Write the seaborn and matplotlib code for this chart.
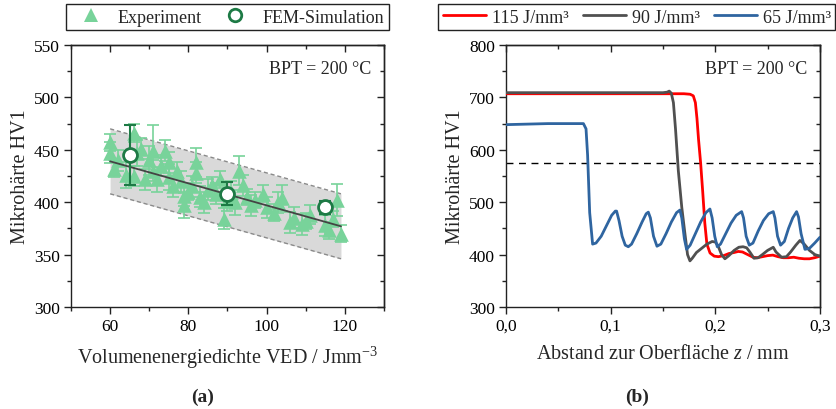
import numpy as np
import pandas as pd
import matplotlib
matplotlib.use("Agg")
import matplotlib.pyplot as plt
from matplotlib.lines import Line2D
from matplotlib.ticker import MultipleLocator, FuncFormatter
import seaborn as sns

# ---------------- data: hardness vs. volume energy density ----------------
exp_ved = [60, 60, 61, 62, 64, 66, 66, 67, 68, 69, 70, 71, 71, 72, 73, 74, 75, 75,
           76, 77, 78, 79, 79, 80, 81, 82, 82, 83, 84, 85, 86, 87, 88, 89, 90, 91,
           92, 93, 94, 95, 96, 97, 99, 100, 102, 103, 104, 106, 107, 109, 110, 111,
           115, 116, 117, 118, 119]
exp_hv = [457, 447, 432, 440, 426, 466, 425, 447, 451, 422, 440, 449, 430, 422, 435,
          449, 438, 424, 415, 430, 420, 406, 397, 410, 415, 438, 428, 405, 400, 412,
          416, 408, 422, 384, 402, 410, 400, 430, 416, 405, 397, 402, 408, 395, 390,
          400, 404, 381, 385, 379, 382, 388, 378, 373, 384, 402, 370]
exp_err = [8, 10, 8, 10, 12, 9, 10, 12, 10, 10, 14, 25, 10, 12, 10, 10, 10, 12, 10,
           8, 10, 10, 12, 8, 10, 14, 10, 10, 10, 10, 8, 10, 8, 10, 10, 10, 12, 14,
           10, 8, 10, 8, 8, 10, 8, 10, 12, 10, 10, 10, 8, 9, 10, 8, 8, 15, 8]

fem_ved = [65, 90, 115]
fem_hv = [445, 408, 395]
fem_err = [29, 11, 6]

trend_ved = [60, 119]
trend_hv = [439, 377]
band_half = 31

# ---------------- data: hardness depth profiles ----------------
z_115 = [0, 0.05, 0.10, 0.15, 0.17, 0.176, 0.179, 0.181, 0.1825, 0.184, 0.186, 0.188,
         0.190, 0.192, 0.195, 0.199, 0.203, 0.208, 0.213, 0.218, 0.222, 0.226, 0.231,
         0.236, 0.240, 0.245, 0.250, 0.255, 0.260, 0.265, 0.270, 0.275, 0.280, 0.285,
         0.290, 0.295, 0.300]
hv_115 = [707, 707, 707, 707, 707, 706, 703, 690, 660, 620, 575, 520, 460, 420, 403,
          397, 396, 398, 402, 404, 406, 405, 400, 395, 394, 396, 398, 399, 396, 394,
          394, 395, 393, 392, 392, 394, 397]

z_90 = [0, 0.05, 0.10, 0.15, 0.154, 0.156, 0.158, 0.160, 0.162, 0.1647, 0.168, 0.171,
        0.1735, 0.1758, 0.178, 0.182, 0.187, 0.192, 0.197, 0.200, 0.2026, 0.206, 0.2092,
        0.213, 0.218, 0.2225, 0.2265, 0.230, 0.233, 0.237, 0.241, 0.245, 0.250, 0.2554,
        0.258, 0.2633, 0.268, 0.272, 0.277, 0.2809, 0.285, 0.290, 0.2952, 0.300]
hv_90 = [709, 709, 709, 709, 710, 712, 708, 690, 640, 560, 490, 440, 400, 388, 393,
         404, 412, 420, 425, 424, 417, 400, 392, 398, 408, 414, 415, 413, 405, 393, 394,
         400, 408, 414, 405, 395, 396, 405, 418, 427, 420, 408, 400, 397]

z_65 = [0, 0.02, 0.04, 0.06, 0.074, 0.0765, 0.078, 0.080, 0.0828, 0.086, 0.091, 0.096,
        0.101, 0.1045, 0.1057, 0.108, 0.111, 0.114, 0.1169, 0.120, 0.125, 0.130, 0.134,
        0.136, 0.138, 0.141, 0.1443, 0.148, 0.153, 0.158, 0.163, 0.1662, 0.168, 0.1705,
        0.1726, 0.176, 0.181, 0.186, 0.191, 0.1949, 0.197, 0.1995, 0.2019, 0.205, 0.210,
        0.215, 0.220, 0.2252, 0.227, 0.2295, 0.2325, 0.236, 0.241, 0.246, 0.251, 0.2554,
        0.257, 0.2595, 0.2624, 0.266, 0.270, 0.274, 0.2777, 0.2795, 0.282, 0.2857, 0.290,
        0.295, 0.300]
hv_65 = [648, 649, 650, 650, 650, 640, 590, 480, 420, 422, 435, 455, 475, 483, 483,
         465, 435, 418, 415, 420, 440, 462, 478, 481, 470, 435, 416, 420, 440, 462, 480,
         485, 470, 430, 410, 418, 440, 462, 480, 487, 470, 435, 415, 420, 440, 460, 475,
         482, 470, 435, 418, 422, 445, 465, 478, 482, 470, 435, 418, 425, 450, 470, 482,
         472, 440, 410, 412, 422, 433]

threshold_hv = 575
curve_labels = ["115 J/mm³", "90 J/mm³", "65 J/mm³"]
curve_colors = ["#ff0000", "#505050", "#2f65a0"]

# ---------------- style ----------------
sns.set_style("ticks")
plt.rcParams["font.family"] = ["Liberation Serif", "DejaVu Serif"]
plt.rcParams["mathtext.fontset"] = "custom"
plt.rcParams["mathtext.rm"] = "Liberation Serif"
plt.rcParams["mathtext.it"] = "Liberation Serif:italic"
plt.rcParams["axes.edgecolor"] = "#222222"
plt.rcParams["axes.linewidth"] = 1.0

green_exp = "#78d39a"
green_fem = "#1d7a45"

TICK_FS = 12.5
LABEL_FS = 14.5
LEG_FS = 13

fig = plt.figure(figsize=(8.37, 4.10), dpi=100)
ax1 = fig.add_axes([0.0848, 0.2488, 0.374, 0.639])
ax2 = fig.add_axes([0.6045, 0.2488, 0.3751, 0.639])


def frame_ticks(ax, xmaj, xmin, ymaj, ymin):
    ax.xaxis.set_major_locator(MultipleLocator(xmaj))
    ax.xaxis.set_minor_locator(MultipleLocator(xmin))
    ax.yaxis.set_major_locator(MultipleLocator(ymaj))
    ax.yaxis.set_minor_locator(MultipleLocator(ymin))
    ax.tick_params(which="major", direction="out", length=5, width=1,
                   labelsize=TICK_FS, colors="#222222", labelcolor="black", pad=3)
    ax.tick_params(which="minor", direction="out", length=3, width=1, colors="#222222")
    top = ax.secondary_xaxis("top")
    top.xaxis.set_major_locator(MultipleLocator(xmaj))
    top.xaxis.set_minor_locator(MultipleLocator(xmin))
    top.tick_params(which="major", direction="in", length=5, width=1, labeltop=False, colors="#222222")
    top.tick_params(which="minor", direction="in", length=3, width=1, colors="#222222")
    right = ax.secondary_yaxis("right")
    right.yaxis.set_major_locator(MultipleLocator(ymaj))
    right.yaxis.set_minor_locator(MultipleLocator(ymin))
    right.tick_params(which="major", direction="in", length=5, width=1, labelright=False, colors="#222222")
    right.tick_params(which="minor", direction="in", length=3, width=1, colors="#222222")


# ---------------- (a) ----------------
tx = np.array(trend_ved, dtype=float)
ty = np.array(trend_hv, dtype=float)
ax1.fill_between(tx, ty - band_half, ty + band_half, color="#d9d9d9", lw=0, zorder=1)
ax1.plot(tx, ty + band_half, ls=(0, (3, 2)), color="#8a8a8a", lw=1, zorder=2)
ax1.plot(tx, ty - band_half, ls=(0, (3, 2)), color="#8a8a8a", lw=1, zorder=2)

ax1.errorbar(exp_ved, exp_hv, yerr=exp_err, fmt="none", ecolor=green_exp,
             elinewidth=1.2, capsize=4, capthick=1.2, zorder=3)
exp_df = pd.DataFrame({"VED": exp_ved, "HV": exp_hv})
sns.scatterplot(data=exp_df, x="VED", y="HV", marker="^", s=110, color=green_exp,
                linewidth=0, ax=ax1, zorder=4, legend=False)

sns.lineplot(x=trend_ved, y=trend_hv, color="#444444", lw=1.3, ax=ax1, zorder=5)

ax1.errorbar(fem_ved, fem_hv, yerr=fem_err, fmt="none", ecolor=green_fem,
             elinewidth=1.5, capsize=4, capthick=1.5, zorder=6)
ax1.plot(fem_ved, fem_hv, ls="none", marker="o", ms=10, mfc="white",
         mec=green_fem, mew=2, zorder=7)

ax1.set_xlim(50, 130)
ax1.set_ylim(300, 550)
frame_ticks(ax1, 20, 10, 50, 25)
ax1.set_xlabel(r"Volumenenergiedichte VED / Jmm$^{\mathregular{-3}}$", fontsize=LABEL_FS, labelpad=7)
ax1.set_ylabel("Mikrohärte HV1", fontsize=LABEL_FS, labelpad=3)
ax1.text(0.96, 0.91, "BPT = 200 °C", transform=ax1.transAxes, ha="right",
         va="center", fontsize=13)
fig.text(0.2425, 0.032, "(a)", ha="center", va="center", fontsize=14, fontweight="bold")

h_a = [Line2D([], [], ls="none", marker="^", ms=10, color=green_exp, mew=0),
       Line2D([], [], ls="none", marker="o", ms=9, mfc="white", mec=green_fem, mew=2)]
fig.legend(h_a, ["Experiment", "FEM-Simulation"], loc="center",
           bbox_to_anchor=(0.2718, 0.9555), ncol=2, fontsize=LEG_FS, frameon=True,
           fancybox=False, edgecolor="#222222", framealpha=1, borderpad=0.25,
           handletextpad=0.4, columnspacing=0.75, handlelength=2.2)

# ---------------- (b) ----------------
curves = [(z_115, hv_115), (z_90, hv_90), (z_65, hv_65)]
ax2.axhline(threshold_hv, color="black", lw=1, ls=(0, (5, 4)), zorder=1)
for (zz, hv), lab, col in zip(curves, curve_labels, curve_colors):
    sns.lineplot(x=zz, y=hv, sort=False, estimator=None, color=col, lw=2,
                 ax=ax2, label=lab, zorder=3)
ax2.get_legend().remove()

ax2.set_xlim(0, 0.3)
ax2.set_ylim(300, 800)
frame_ticks(ax2, 0.1, 0.05, 100, 50)
ax2.xaxis.set_major_formatter(FuncFormatter(lambda v, p: f"{v:.1f}".replace(".", ",")))
ax2.set_xlabel(r"Abstand zur Oberfläche $\mathit{z}$ / mm", fontsize=LABEL_FS, labelpad=7)
ax2.set_ylabel("Mikrohärte HV1", fontsize=LABEL_FS, labelpad=3)
ax2.text(0.96, 0.91, "BPT = 200 °C", transform=ax2.transAxes, ha="right",
         va="center", fontsize=13)
fig.text(0.7607, 0.032, "(b)", ha="center", va="center", fontsize=14, fontweight="bold")

h_b = [Line2D([], [], color=c, lw=2) for c in curve_colors]
fig.legend(h_b, curve_labels, loc="center", bbox_to_anchor=(0.7610, 0.9555), ncol=3,
           fontsize=LEG_FS, frameon=True, fancybox=False, edgecolor="#222222",
           framealpha=1, borderpad=0.25, handletextpad=0.3, columnspacing=0.8,
           handlelength=2.4)

fig.savefig("out.png", dpi=100)
